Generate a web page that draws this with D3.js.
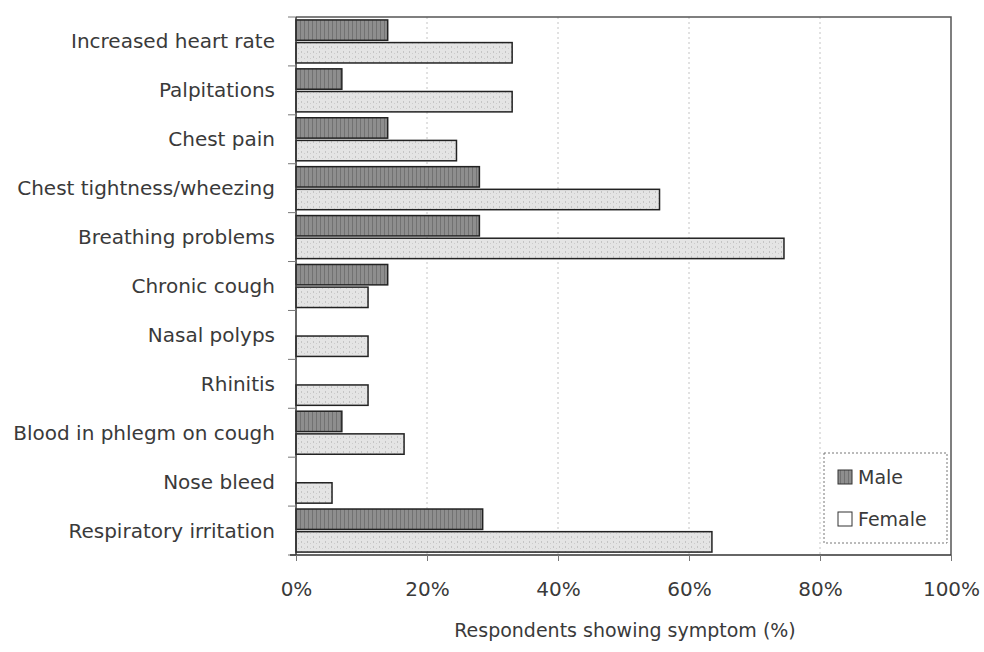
<!DOCTYPE html>
<html><head><meta charset="utf-8">
<script src="https://cdn.jsdelivr.net/npm/d3@7"></script>
<style>body{margin:0;background:#fff}svg{display:block}text{font-family:"DejaVu Sans",sans-serif;fill:#3a3a3a}</style>
</head><body><svg id="c" width="984" height="652"></svg>
<script>
const categories=["Increased heart rate","Palpitations","Chest pain","Chest tightness/wheezing","Breathing problems","Chronic cough","Nasal polyps","Rhinitis","Blood in phlegm on cough","Nose bleed","Respiratory irritation"];
const series=["Male","Female"];
const maleValues=[14,7,14,28,28,14,0,0,7,0,28.5];
const femaleValues=[33,33,24.5,55.5,74.5,11,11,11,16.5,5.5,63.5];
const xTicks=[0,20,40,60,80,100];
const axisTitle="Respondents showing symptom (%)";

const svg=d3.select("#c");
const defs=svg.append("defs");
const pm=defs.append("pattern").attr("id","pm").attr("patternUnits","userSpaceOnUse").attr("width",4).attr("height",6);
pm.append("rect").attr("width",4).attr("height",6).attr("fill","#8e8e8e");
pm.append("rect").attr("width",1).attr("height",6).attr("fill","#727272");
const pf=defs.append("pattern").attr("id","pf").attr("patternUnits","userSpaceOnUse").attr("width",6).attr("height",5);
pf.append("rect").attr("width",6).attr("height",5).attr("fill","#e4e4e4");
pf.append("rect").attr("x",1).attr("y",1).attr("width",1).attr("height",2).attr("fill","#c4c4c4");
pf.append("rect").attr("x",4).attr("y",3).attr("width",1).attr("height",1).attr("fill","#cccccc");

const L=296,R=951,T=17,B=555;
const x=d3.scaleLinear().domain([0,100]).range([L,R]);
const y=d3.scaleBand().domain(categories).range([T,B]).paddingInner(0.12).paddingOuter(0.06);
const ys=d3.scaleBand().domain(series).range([0,y.bandwidth()]).paddingInner(0.1);
const yb=d3.scaleBand().domain(categories).range([T,B]);

// gridlines
svg.append("g").selectAll("line").data(xTicks.slice(1,-1)).join("line")
 .attr("x1",d=>x(d)).attr("x2",d=>x(d)).attr("y1",T).attr("y2",B)
 .attr("stroke","#c4c4c4").attr("stroke-width",1).attr("stroke-dasharray","2,3");

// frame
svg.append("path").attr("d",`M${L},${T}H${R}V${B}`).attr("fill","none").attr("stroke","#555").attr("stroke-width",1.5);

const fills={Male:"url(#pm)",Female:"url(#pf)"};
const vals={Male:maleValues,Female:femaleValues};
series.forEach(s=>{
 svg.append("g").selectAll("rect").data(categories.map((c,i)=>({c,v:vals[s][i]})).filter(d=>d.v>0)).join("rect")
  .attr("x",x(0)).attr("y",d=>y(d.c)+ys(s)).attr("width",d=>x(d.v)-x(0)).attr("height",ys.bandwidth())
  .attr("fill",fills[s]).attr("stroke","#222").attr("stroke-width",1.5);
});

// left axis
svg.append("line").attr("x1",L).attr("x2",L).attr("y1",T).attr("y2",B).attr("stroke","#333").attr("stroke-width",1.5);
svg.append("g").selectAll("line").data(categories.concat(["_end"])).join("line")
 .attr("x1",L-8).attr("x2",L).attr("y1",(d,i)=>T+i*yb.step()).attr("y2",(d,i)=>T+i*yb.step()).attr("stroke","#777");
svg.append("g").selectAll("text").data(categories).join("text")
 .attr("x",275).attr("y",d=>y(d)+y.bandwidth()/2).attr("dy","0.35em").attr("text-anchor","end")
 .attr("font-size",20).text(d=>d);

// bottom axis
const xa=svg.append("g").attr("transform",`translate(0,${B})`).call(d3.axisBottom(x).tickValues(xTicks).tickFormat(d=>d+"%").tickSize(6).tickPadding(21));
xa.select(".domain").attr("stroke","#333").attr("stroke-width",1.5).attr("d",`M${L-6},0H${R}`);
xa.selectAll(".tick line").attr("stroke","#777");
xa.selectAll("text").attr("font-size",20).attr("fill","#3a3a3a").style("font-family","DejaVu Sans, sans-serif");
svg.append("text").attr("x",625).attr("y",637).attr("text-anchor","middle").attr("font-size",19).text(axisTitle);

// legend
const lg=svg.append("g");
lg.append("rect").attr("x",824).attr("y",453).attr("width",123).attr("height",90).attr("fill","#fff").attr("stroke","#777").attr("stroke-dasharray","2,2");
series.forEach((s,i)=>{
 const cy=477+i*42;
 lg.append("rect").attr("x",838).attr("y",cy-7).attr("width",14).attr("height",14).attr("fill",s==="Male"?"url(#pm)":"#fff").attr("stroke","#333");
 lg.append("text").attr("x",858).attr("y",cy).attr("dy","0.35em").attr("font-size",19).text(s);
});
</script></body></html>
